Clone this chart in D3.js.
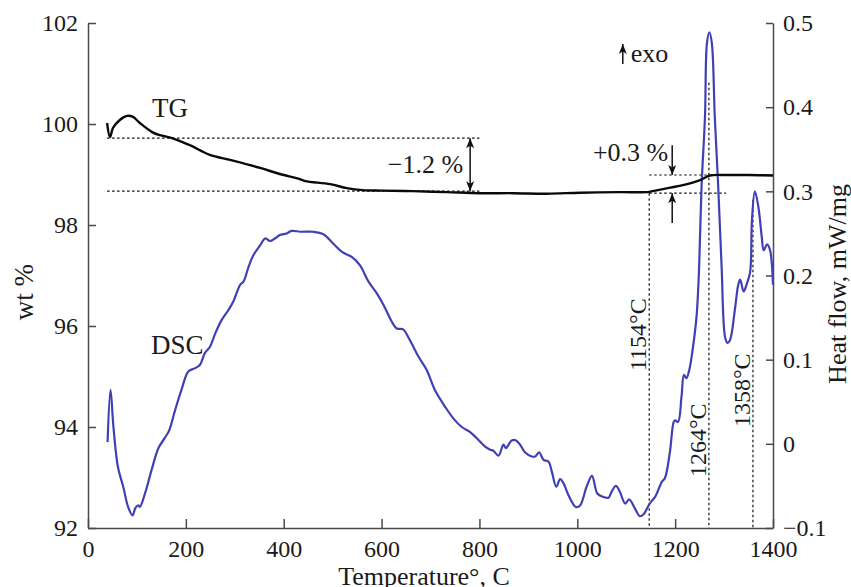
<!DOCTYPE html>
<html>
<head>
<meta charset="utf-8">
<script src="https://cdn.jsdelivr.net/npm/d3@7"></script>
<style>
  body { margin: 0; background: #fff; }
  text { font-family: "Liberation Serif", "Times New Roman", serif; fill: #1a1a1a; }
  .axis path, .axis line { stroke: #4a4a4a; stroke-width: 1.5; }
  .axis text { font-size: 24px; }
  .dots { stroke: #111; stroke-width: 1.2; stroke-dasharray: 2.5,2.5; fill: none; }
</style>
</head>
<body>
<div id="chart"></div>
<script>
// TG curve: [temperature, wt %]
const tgData = [
  [39, 100.02], [45, 99.74], [51, 99.92], [65, 100.08], [80, 100.16], [92, 100.14],
  [106, 100.02], [131, 99.84], [147, 99.78], [172, 99.72], [208, 99.58], [249, 99.39],
  [290, 99.29], [352, 99.13], [392, 99.01], [433, 98.91], [444, 98.87], [495, 98.81],
  [529, 98.73], [562, 98.69], [600, 98.68], [664, 98.67], [734, 98.65], [801, 98.63],
  [870, 98.63], [938, 98.62], [1006, 98.64], [1087, 98.65], [1143, 98.65], [1149, 98.66],
  [1190, 98.74], [1216, 98.79], [1251, 98.89], [1271, 98.98], [1306, 98.99], [1350, 98.99],
  [1400, 98.98]
];

// DSC curve: [temperature, heat flow mW/mg]
const dscData = [
  [40, 0.002], [46, 0.064], [52, 0.020], [61, -0.027], [72, -0.051], [82, -0.075],
  [91, -0.085], [97, -0.076], [103, -0.073], [106, -0.075], [117, -0.058], [130, -0.031],
  [144, -0.005], [157, 0.007], [166, 0.016], [178, 0.040], [191, 0.064], [205, 0.086],
  [219, 0.090], [229, 0.094], [239, 0.108], [249, 0.115], [260, 0.131], [273, 0.147],
  [287, 0.159], [297, 0.169], [311, 0.189], [318, 0.193], [328, 0.210], [338, 0.224],
  [352, 0.236], [362, 0.244], [372, 0.241], [382, 0.244], [392, 0.248], [406, 0.250],
  [416, 0.253], [434, 0.252], [460, 0.252], [481, 0.249], [501, 0.238], [519, 0.228],
  [539, 0.222], [556, 0.212], [573, 0.193], [590, 0.179], [604, 0.165], [621, 0.145],
  [631, 0.137], [644, 0.136], [658, 0.123], [675, 0.104], [692, 0.088], [709, 0.064],
  [730, 0.044], [747, 0.030], [764, 0.020], [781, 0.014], [794, 0.007], [811, -0.003],
  [822, -0.007], [828, -0.008], [839, -0.014], [849, -0.001], [854, -0.005], [866, 0.004],
  [875, 0.004], [883, -0.001], [893, -0.010], [907, -0.015], [914, -0.015], [922, -0.010],
  [931, -0.019], [941, -0.021], [948, -0.033], [957, -0.051], [965, -0.042], [972, -0.047],
  [982, -0.061], [997, -0.075], [1006, -0.073], [1019, -0.051], [1030, -0.038], [1041, -0.059],
  [1053, -0.063], [1064, -0.064], [1070, -0.057], [1079, -0.050], [1087, -0.057], [1098, -0.071],
  [1106, -0.066], [1118, -0.077], [1128, -0.086], [1135, -0.084], [1148, -0.071], [1159, -0.063],
  [1173, -0.045], [1179, -0.041], [1189, -0.011], [1197, 0.026], [1200, 0.028], [1206, 0.026],
  [1213, 0.056], [1218, 0.082], [1223, 0.078], [1229, 0.088], [1236, 0.113], [1244, 0.153],
  [1249, 0.210], [1254, 0.306], [1261, 0.389], [1265, 0.476], [1270, 0.489], [1275, 0.476],
  [1281, 0.389], [1288, 0.306], [1295, 0.210], [1302, 0.127], [1307, 0.120], [1312, 0.123],
  [1322, 0.159], [1329, 0.189], [1333, 0.195], [1340, 0.181], [1347, 0.191], [1353, 0.203],
  [1355, 0.218], [1357, 0.266], [1363, 0.300], [1370, 0.282], [1377, 0.246], [1381, 0.230],
  [1388, 0.237], [1394, 0.230], [1400, 0.189]
];

// tick values
const tempTicks = [0, 200, 400, 600, 800, 1000, 1200, 1400];
const wtTicks = [92, 94, 96, 98, 100, 102];
const heatTicks = [-0.1, 0, 0.1, 0.2, 0.3, 0.4, 0.5];

// annotations
const lossLevels = [99.72, 98.67];      // -1.2 % step (wt %)
const lossRange = [39, 800];
const lossArrowT = 781;
const gainLevels = [98.99, 98.63];      // +0.3 % step (wt %)
const gainRange = [[1147, 1400], [1147, 1304]];
const gainArrowT = 1194;
const gainArrowEnds = [99.58, 98.04];
const peakTemps = [1147, 1269, 1359];
const peakLabels = ["1154°C", "1264°C", "1358°C"];
const peakTops = [0.285, 0.429, 0.29];  // heat flow where dotted line starts

const svgWidth = 851, svgHeight = 587;
const margin = { top: 23, right: 78, bottom: 59, left: 88 };
const width = svgWidth - margin.left - margin.right;
const height = svgHeight - margin.top - margin.bottom;

const svg = d3.select("#chart").append("svg")
  .attr("width", svgWidth)
  .attr("height", svgHeight);

const defs = svg.append("defs");
defs.append("marker")
  .attr("id", "arrow")
  .attr("viewBox", "0 0 10 8")
  .attr("refX", 10).attr("refY", 4)
  .attr("markerWidth", 10).attr("markerHeight", 8)
  .attr("markerUnits", "userSpaceOnUse")
  .attr("orient", "auto-start-reverse")
  .append("path")
  .attr("d", "M0,0 L10,4 L0,8 L2.5,4 z")
  .attr("fill", "#111");

const chart = svg.append("g")
  .attr("transform", `translate(${margin.left}, ${margin.top})`);

const x = d3.scaleLinear().domain([0, 1400]).range([0, width]);
const yWt = d3.scaleLinear().domain([92, 102]).range([height, 0]);
const yHf = d3.scaleLinear().domain([-0.1, 0.5]).range([height, 0]);

// axes
chart.append("g")
  .attr("class", "axis")
  .attr("transform", `translate(0, ${height})`)
  .call(d3.axisBottom(x).tickValues(tempTicks).tickFormat(d3.format("d"))
    .tickSizeInner(-9).tickSizeOuter(0).tickPadding(12));

chart.append("g")
  .attr("class", "axis")
  .call(d3.axisLeft(yWt).tickValues(wtTicks).tickSizeInner(-8).tickSizeOuter(0).tickPadding(10));

chart.append("g")
  .attr("class", "axis")
  .attr("transform", `translate(${width}, 0)`)
  .call(d3.axisRight(yHf).tickValues(heatTicks).tickSizeInner(-7).tickSizeOuter(0).tickPadding(10)
    .tickFormat(d => Math.abs(d) < 1e-9 ? "0" : d3.format(".1f")(d)));

chart.selectAll(".axis text").attr("fill", "#1a1a1a");

// axis titles
svg.append("text")
  .attr("x", 424).attr("y", 585)
  .attr("text-anchor", "middle")
  .style("font-size", "26px")
  .text("Temperature°, C");

svg.append("text")
  .attr("transform", "translate(33, 292) rotate(-90)")
  .attr("text-anchor", "middle")
  .style("font-size", "27px")
  .text("wt %");

svg.append("text")
  .attr("transform", "translate(846, 284) rotate(-90)")
  .attr("text-anchor", "middle")
  .style("font-size", "26px")
  .text("Heat flow, mW/mg");

// dotted guide lines: -1.2 %
lossLevels.forEach(v => {
  chart.append("line").attr("class", "dots")
    .attr("x1", x(lossRange[0])).attr("x2", x(lossRange[1]))
    .attr("y1", yWt(v)).attr("y2", yWt(v));
});
chart.append("line")
  .attr("x1", x(lossArrowT)).attr("x2", x(lossArrowT))
  .attr("y1", yWt(lossLevels[0])).attr("y2", yWt(lossLevels[1]))
  .attr("stroke", "#111").attr("stroke-width", 1.5)
  .attr("marker-start", "url(#arrow)").attr("marker-end", "url(#arrow)");
chart.append("text")
  .attr("x", x(lossArrowT) - 7).attr("y", 150)
  .attr("text-anchor", "end")
  .style("font-size", "26px")
  .text("\u22121.2 %");

// dotted guide lines: +0.3 %
gainLevels.forEach((v, i) => {
  chart.append("line").attr("class", "dots")
    .attr("x1", x(gainRange[i][0])).attr("x2", x(gainRange[i][1]))
    .attr("y1", yWt(v)).attr("y2", yWt(v));
});
chart.append("line")
  .attr("x1", x(gainArrowT)).attr("x2", x(gainArrowT))
  .attr("y1", yWt(gainArrowEnds[0])).attr("y2", yWt(gainLevels[0]))
  .attr("stroke", "#111").attr("stroke-width", 1.5)
  .attr("marker-end", "url(#arrow)");
chart.append("line")
  .attr("x1", x(gainArrowT)).attr("x2", x(gainArrowT))
  .attr("y1", yWt(gainArrowEnds[1])).attr("y2", yWt(gainLevels[1]))
  .attr("stroke", "#111").attr("stroke-width", 1.5)
  .attr("marker-end", "url(#arrow)");
chart.append("text")
  .attr("x", x(gainArrowT) - 4).attr("y", 138)
  .attr("text-anchor", "end")
  .style("font-size", "26px")
  .text("+0.3 %");

// vertical dotted lines at DSC features
peakTemps.forEach((t, i) => {
  const top = i === 0 ? yWt(gainLevels[1]) : yHf(peakTops[i]);
  chart.append("line").attr("class", "dots")
    .attr("x1", x(t)).attr("x2", x(t))
    .attr("y1", top).attr("y2", height);
});
const labelBottoms = [348, 454, 404];
peakTemps.forEach((t, i) => {
  chart.append("text")
    .attr("transform", `translate(${x(t) - 3}, ${labelBottoms[i]}) rotate(-90)`)
    .style("font-size", "24px")
    .text(peakLabels[i]);
});

// exo arrow
chart.append("line")
  .attr("x1", x(1093)).attr("x2", x(1093))
  .attr("y1", 41).attr("y2", 21)
  .attr("stroke", "#111").attr("stroke-width", 1.5)
  .attr("marker-end", "url(#arrow)");
chart.append("text")
  .attr("x", x(1093) + 8).attr("y", 39)
  .style("font-size", "26px")
  .text("exo");

// curves
const tgLine = d3.line().curve(d3.curveCatmullRom.alpha(0.5)).x(d => x(d[0])).y(d => yWt(d[1]));
const dscLine = d3.line().curve(d3.curveCatmullRom.alpha(0.5)).x(d => x(d[0])).y(d => yHf(d[1]));

chart.append("path")
  .datum(dscData)
  .attr("fill", "none")
  .attr("stroke", "#4040b4")
  .attr("stroke-width", 2.2)
  .attr("stroke-linejoin", "round")
  .attr("d", dscLine);

chart.append("path")
  .datum(tgData)
  .attr("fill", "none")
  .attr("stroke", "#0a0a0a")
  .attr("stroke-width", 2.4)
  .attr("stroke-linejoin", "round")
  .attr("d", tgLine);

// curve labels
chart.append("text")
  .attr("x", 152 - margin.left).attr("y", 117 - margin.top)
  .style("font-size", "27px")
  .text("TG");
chart.append("text")
  .attr("x", 151 - margin.left).attr("y", 354 - margin.top)
  .style("font-size", "27px")
  .text("DSC");
</script>
</body>
</html>
